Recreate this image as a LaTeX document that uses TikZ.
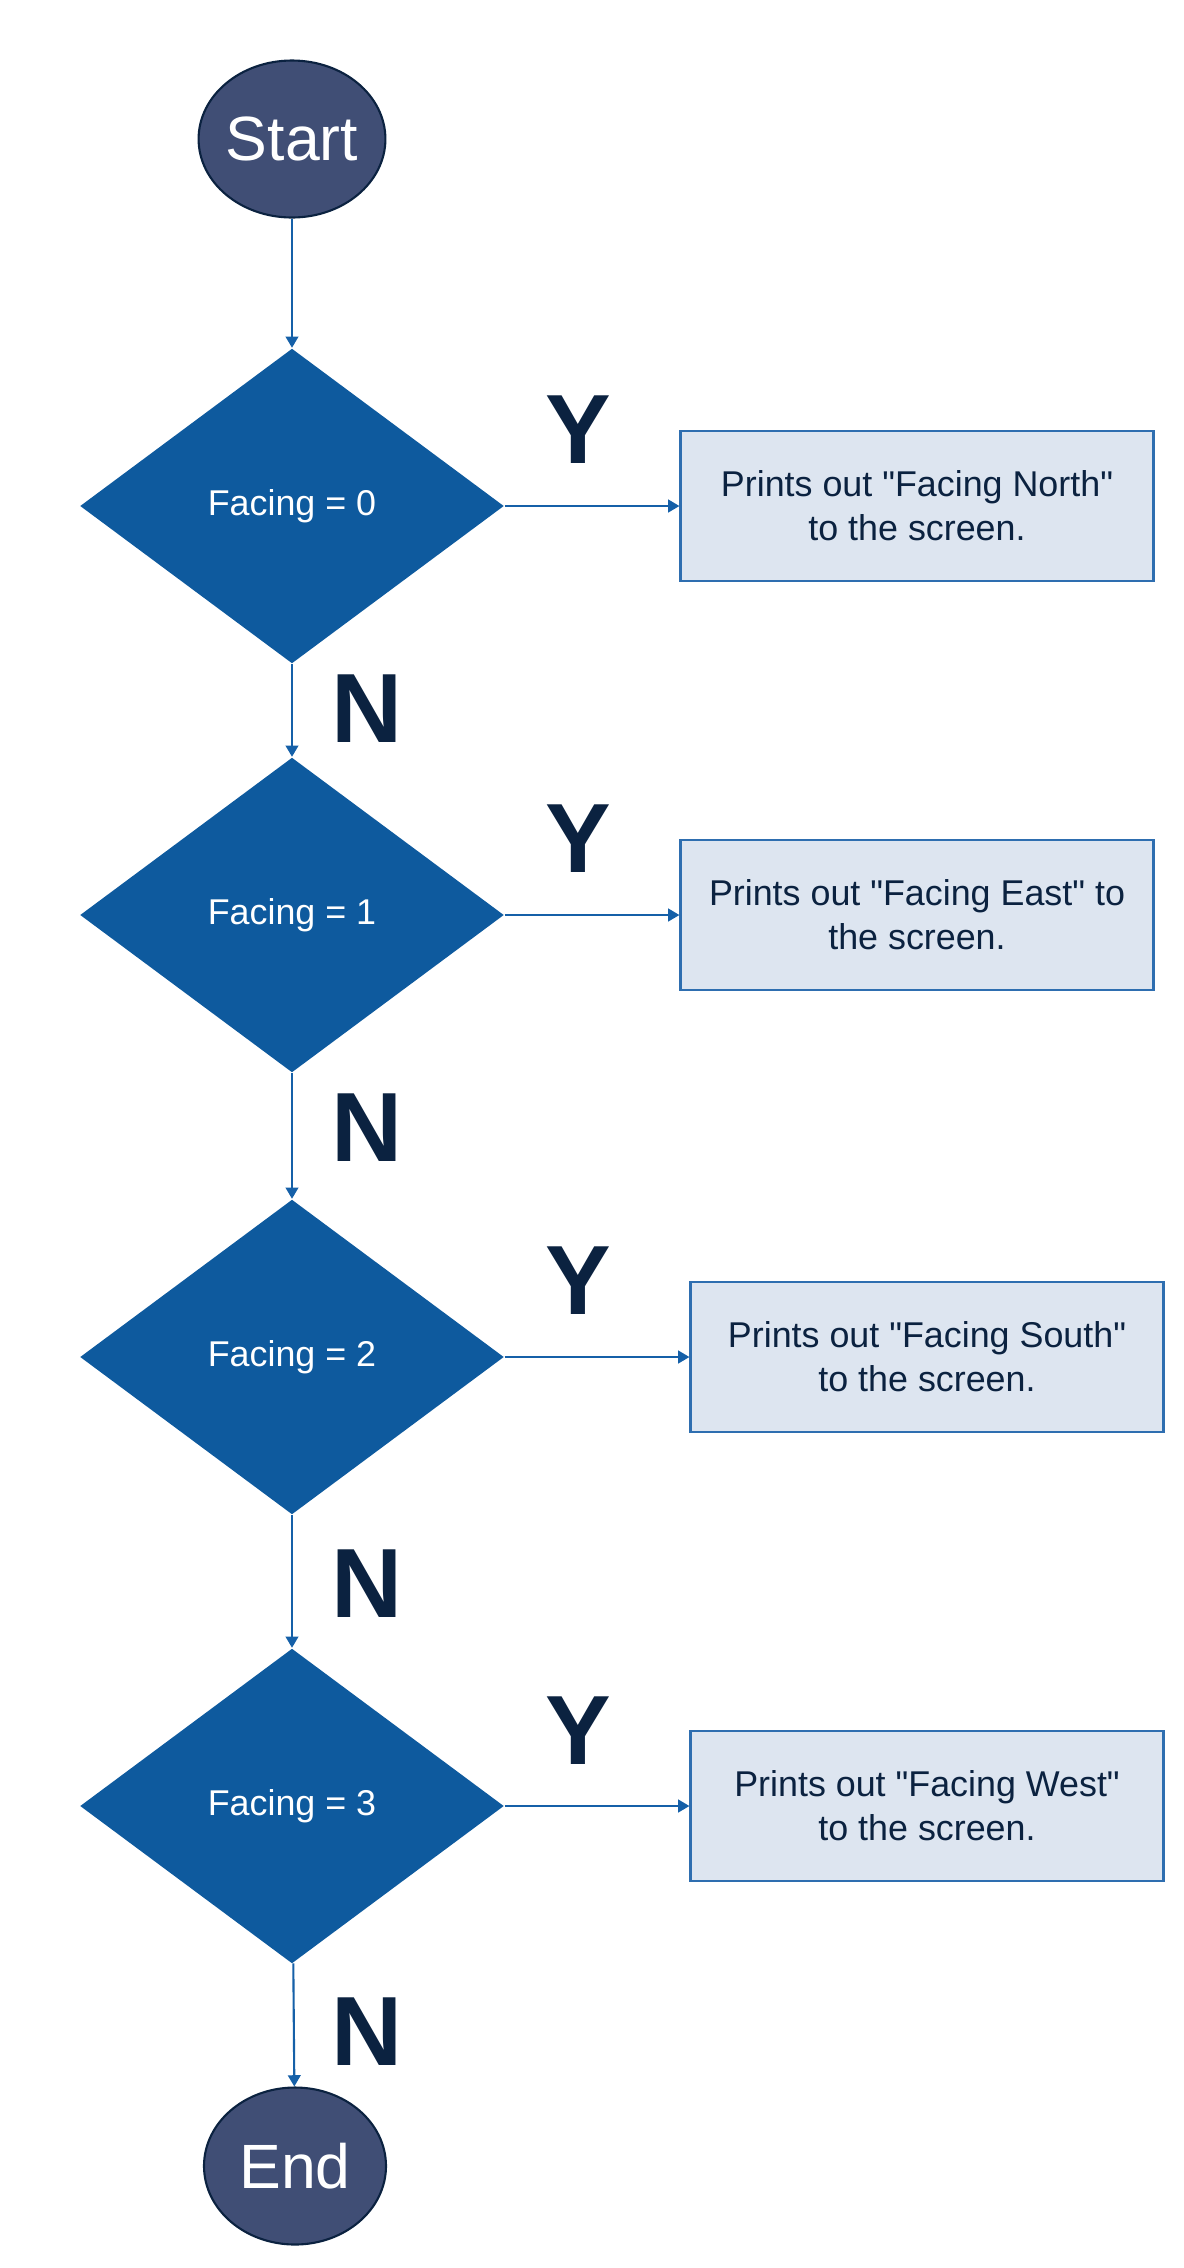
\documentclass[tikz,border=0pt]{standalone}
\usepackage{fontspec}
\setmainfont{Liberation Sans}
\usepackage{tikz}
\usetikzlibrary{positioning}
\usetikzlibrary{shapes.geometric,arrows.meta}
\definecolor{termFill}{HTML}{404E75}
\definecolor{navyDark}{HTML}{0B2240}
\definecolor{decFill}{HTML}{0E5A9E}
\definecolor{boxFill}{HTML}{DDE5F0}
\definecolor{boxLine}{HTML}{2E6EB0}
\definecolor{flowLine}{HTML}{1560A8}
\newcommand{\qt}{\textquotedbl}
\tikzset{
    terminal/.style={ellipse, draw=navyDark, line width=0.6pt, fill=termFill, text=white,
		minimum width=1.82cm, minimum height=1.57cm, inner sep=0pt,
		font=\fontsize{17.8}{20}\selectfont}
}
\tikzset{
    decision/.style={diamond, fill=decFill, text=white, inner sep=0pt,
		minimum width=4.24cm, minimum height=3.15cm,
		font=\fontsize{10.2}{12.5}\selectfont}
}
\tikzset{
    printBox/.style={rectangle, draw=boxLine, line width=0.6pt, fill=boxFill, text=navyDark,
		minimum width=4.73cm, minimum height=1.50cm, align=center,
		font=\fontsize{10.2}{12.5}\selectfont}
}
\tikzset{
    answer/.style={text=navyDark, font=\fontsize{28}{30}\selectfont\bfseries},
    flow/.style={draw=flowLine, line width=0.6pt, -{Triangle[width=3.6pt,length=3.2pt]}}
}

\begin{document}
\begin{tikzpicture}
			\useasboundingbox (0,0) rectangle (11.83,-22.68);
			\node[terminal] (start) at (2.92,-1.39) {Start};
			\node[decision] (dec0) at (2.92,-5.06) {Facing = 0};
			\node[decision] (dec1) at (2.92,-9.15) {Facing = 1};
			\node[decision] (dec2) at (2.92,-13.57) {Facing = 2};
			\node[decision] (dec3) at (2.92,-18.06) {Facing = 3};
			\node[terminal] (stop) at (2.95,-21.66) {End};
			\node[printBox] (out0) at (9.17,-5.06) {Prints out \qt Facing North\qt\\to the screen.};
			\node[printBox] (out1) at (9.17,-9.15) {Prints out \qt Facing East\qt{} to\\the screen.};
			\node[printBox] (out2) at (9.27,-13.57) {Prints out \qt Facing South\qt\\to the screen.};
			\node[printBox] (out3) at (9.27,-18.06) {Prints out \qt Facing West\qt\\to the screen.};
			% yes / no labels
			\node[answer] (yes0) at (5.78,-4.30) {Y};
			\node[answer] (yes1) at (5.78,-8.39) {Y};
			\node[answer] (yes2) at (5.78,-12.81) {Y};
			\node[answer] (yes3) at (5.78,-17.31) {Y};
			\node[answer] (no0) at (3.67,-7.09) {N};
			\node[answer] (no1) at (3.67,-11.28) {N};
			\node[answer] (no2) at (3.67,-15.84) {N};
			\node[answer] (no3) at (3.67,-20.32) {N};
			% connectors
			\draw[flow] (start) -- (dec0);
			\draw[flow] (dec0) -- (dec1);
			\draw[flow] (dec1) -- (dec2);
			\draw[flow] (dec2) -- (dec3);
			\draw[flow] (dec3) -- (stop);
			\draw[flow] (dec0.east) -- (out0.west);
			\draw[flow] (dec1.east) -- (out1.west);
			\draw[flow] (dec2.east) -- (out2.west);
			\draw[flow] (dec3.east) -- (out3.west);
	\end{tikzpicture}
\end{document}
